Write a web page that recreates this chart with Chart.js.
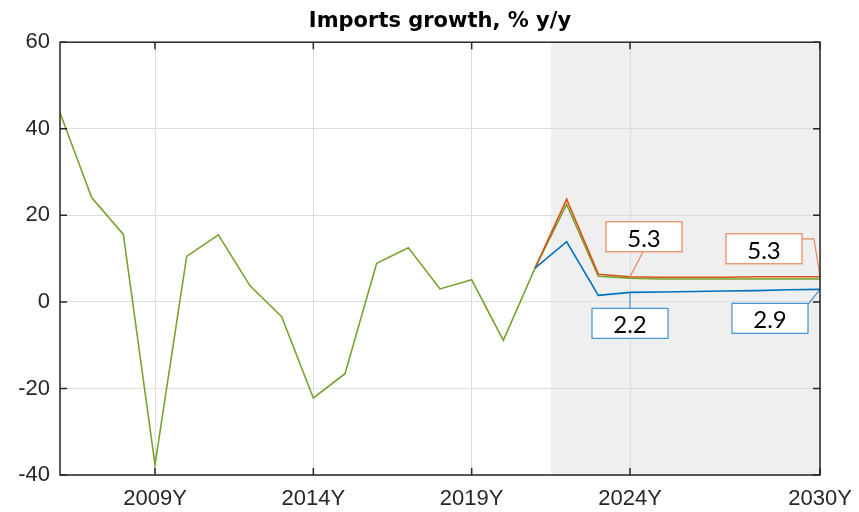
<!DOCTYPE html>
<html>
<head>
<meta charset="utf-8">
<script src="https://cdn.jsdelivr.net/npm/chart.js@4.4.1/dist/chart.umd.min.js"></script>
<style>
  html, body { margin: 0; padding: 0; background: #ffffff; }
  .wrap { width: 859px; height: 512px; position: relative; }
</style>
</head>
<body>
<div class="wrap"><canvas id="chart"></canvas></div>
<script>
// years on the x axis
const histYears = [2006, 2007, 2008, 2009, 2010, 2011, 2012, 2013, 2014, 2015, 2016, 2017, 2018, 2019, 2020, 2021];
const fcYears = [2021, 2022, 2023, 2024, 2025, 2026, 2027, 2028, 2029, 2030];

// history, % y/y
const histValues = [43.7, 24.1, 15.6, -37.6, 10.5, 15.5, 3.7, -3.4, -22.2, -16.6, 8.9, 12.5, 3.0, 5.1, -8.9, 7.8];
// forecast scenarios from 2021
const greenValues = [7.8, 22.5, 5.9, 5.5, 5.3, 5.3, 5.3, 5.3, 5.3, 5.3];
const orangeValues = [7.8, 23.7, 6.4, 5.8, 5.7, 5.7, 5.7, 5.8, 5.8, 5.8];
const blueValues = [7.8, 13.9, 1.5, 2.2, 2.3, 2.4, 2.5, 2.6, 2.8, 2.9];

const xTicks = [2009, 2014, 2019, 2024, 2030];
const yTicks = [-40, -20, 0, 20, 40, 60];
const forecastStart = 2021.5;

// value labels: which series, which year, what text
const notes = [
  { series: 'orange', year: 2024, text: '5.3' },
  { series: 'orange', year: 2030, text: '5.3' },
  { series: 'blue', year: 2024, text: '2.2' },
  { series: 'blue', year: 2030, text: '2.9' }
];
// placement of the label boxes relative to their point
const noteLayout = [
  { dx: 14, dy: -40, leader: 'bottom' },
  { dx: -56, dy: -28, leader: 'elbow' },
  { dx: 0, dy: 31, leader: 'top' },
  { dx: -50, dy: 29, leader: 'corner' }
];

const colors = {
  orange: '#D95319',
  green: '#77A32E',
  blue: '#0072BD',
  orangeBox: '#E8875A',
  blueBox: '#3F93D2',
  axis: '#262626',
  grid: '#dcdcdc',
  shade: '#efefef'
};

const toPoints = (xs, ys) => xs.map((x, i) => ({ x, y: ys[i] }));

const seriesData = {
  green: toPoints(histYears, histValues).concat(toPoints(fcYears.slice(1), greenValues.slice(1))),
  orange: toPoints(fcYears, orangeValues),
  blue: toPoints(fcYears, blueValues)
};

Chart.defaults.font.family = "'Liberation Sans', Arial, sans-serif";
Chart.defaults.color = colors.axis;

const shadePlugin = {
  id: 'shade',
  beforeDraw(chart) {
    const { ctx, chartArea } = chart;
    const x0 = chart.scales.x.getPixelForValue(forecastStart);
    ctx.save();
    ctx.fillStyle = colors.shade;
    ctx.fillRect(x0, chartArea.top, chartArea.right - x0, chartArea.bottom - chartArea.top);
    ctx.restore();
  }
};

const notesPlugin = {
  id: 'notes',
  afterDatasetsDraw(chart) {
    const { ctx } = chart;
    const xs = chart.scales.x;
    const ys = chart.scales.y;
    const w = 76;
    const h = 30;
    notes.forEach((note, i) => {
      const lay = noteLayout[i];
      const pt = seriesData[note.series].find((p) => p.x === note.year);
      if (!pt) {
        return;
      }
      const ax = xs.getPixelForValue(pt.x);
      const ay = ys.getPixelForValue(pt.y);
      const cx = ax + lay.dx;
      const cy = ay + lay.dy;
      const left = cx - w / 2;
      const top = cy - h / 2;
      const stroke = note.series === 'orange' ? colors.orangeBox : colors.blueBox;

      ctx.save();
      ctx.strokeStyle = stroke;
      ctx.lineWidth = 1.2;
      ctx.beginPath();
      if (lay.leader === 'bottom') {
        ctx.moveTo(cx - 1, top + h);
        ctx.lineTo(ax, ay);
      } else if (lay.leader === 'top') {
        ctx.moveTo(ax, top);
        ctx.lineTo(ax, ay);
      } else if (lay.leader === 'corner') {
        ctx.moveTo(left + w, top + 1);
        ctx.lineTo(ax, ay);
      } else if (lay.leader === 'elbow') {
        ctx.moveTo(left + w, top + 5);
        ctx.lineTo(ax - 6, top + 5);
        ctx.lineTo(ax, ay);
      }
      ctx.stroke();

      ctx.fillStyle = '#ffffff';
      ctx.fillRect(left, top, w, h);
      ctx.strokeRect(left, top, w, h);

      ctx.fillStyle = '#000000';
      ctx.font = "24px Lato, 'Open Sans', sans-serif";
      ctx.textAlign = 'center';
      ctx.textBaseline = 'middle';
      ctx.fillText(note.text, cx, cy + 2);
      ctx.restore();
    });
  }
};

const framePlugin = {
  id: 'frame',
  afterDraw(chart) {
    const { ctx, chartArea } = chart;
    const { left, right, top, bottom } = chartArea;
    const tick = 7;
    ctx.save();
    ctx.strokeStyle = colors.axis;
    ctx.lineWidth = 1.5;
    ctx.strokeRect(left, top, right - left, bottom - top);
    ctx.beginPath();
    xTicks.forEach((v) => {
      const x = chart.scales.x.getPixelForValue(v);
      ctx.moveTo(x, bottom);
      ctx.lineTo(x, bottom - tick);
      ctx.moveTo(x, top);
      ctx.lineTo(x, top + tick);
    });
    yTicks.forEach((v) => {
      const y = chart.scales.y.getPixelForValue(v);
      ctx.moveTo(left, y);
      ctx.lineTo(left + tick, y);
      ctx.moveTo(right, y);
      ctx.lineTo(right - tick, y);
    });
    ctx.stroke();
    ctx.restore();
  }
};

const lineStyle = (color) => ({
  borderColor: color,
  backgroundColor: color,
  borderWidth: 1.6,
  pointRadius: 0,
  tension: 0,
  fill: false
});

new Chart(document.getElementById('chart'), {
  type: 'line',
  data: {
    datasets: [
      { label: 'Scenario B', data: seriesData.blue, ...lineStyle(colors.blue) },
      { label: 'Scenario A', data: seriesData.orange, ...lineStyle(colors.orange) },
      { label: 'Baseline', data: seriesData.green, ...lineStyle(colors.green) }
    ]
  },
  options: {
    responsive: true,
    maintainAspectRatio: false,
    animation: false,
    devicePixelRatio: 1,
    layout: { padding: { left: 0, right: 39, top: 0, bottom: 0 } },
    plugins: {
      legend: { display: false },
      tooltip: { enabled: false },
      title: {
        display: true,
        fullSize: false,
        text: 'Imports growth, % y/y',
        color: '#000000',
        font: { family: "'DejaVu Sans', sans-serif", weight: 'bold', size: 21 },
        padding: { top: 9, bottom: 8 }
      }
    },
    scales: {
      x: {
        type: 'linear',
        min: 2006,
        max: 2030,
        afterBuildTicks: (scale) => {
          scale.ticks = xTicks.map((value) => ({ value }));
        },
        afterFit: (scale) => {
          scale.height = 37;
          scale.paddingLeft = 0;
          scale.paddingRight = 0;
        },
        border: { display: false },
        grid: { color: colors.grid, drawTicks: false, lineWidth: 1 },
        ticks: {
          color: colors.axis,
          font: { size: 22 },
          padding: 11,
          maxRotation: 0,
          autoSkip: false,
          callback: (value) => `${value}Y`
        }
      },
      y: {
        min: -40,
        max: 60,
        afterBuildTicks: (scale) => {
          scale.ticks = yTicks.map((value) => ({ value }));
        },
        afterFit: (scale) => {
          scale.width = 60;
          scale.paddingTop = 0;
          scale.paddingBottom = 0;
        },
        border: { display: false },
        grid: { color: colors.grid, drawTicks: false, lineWidth: 1 },
        ticks: {
          color: colors.axis,
          font: { size: 22 },
          padding: 10
        }
      }
    }
  },
  plugins: [shadePlugin, notesPlugin, framePlugin]
});
</script>
</body>
</html>
